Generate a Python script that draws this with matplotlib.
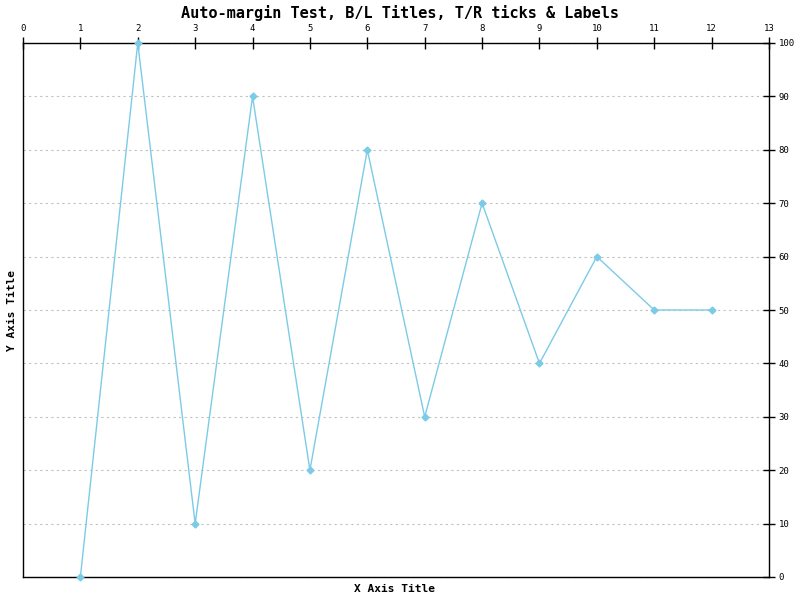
import matplotlib
matplotlib.use("Agg")
import matplotlib.pyplot as plt

# Data
x_vals = [1, 2, 3, 4, 5, 6, 7, 8, 9, 10, 11, 12]
y_vals = [0, 100, 10, 90, 20, 80, 30, 70, 40, 60, 50, 50]
x_ticks = list(range(0, 14))
y_ticks = list(range(0, 101, 10))

fig = plt.figure(figsize=(8, 6), dpi=100)
ax = fig.add_axes([23 / 800, 1 - 577 / 600, 746 / 800, 534 / 600])

ax.plot(x_vals, y_vals, color='#7ccbe6', linewidth=1, marker='D', markersize=3.5,
        markerfacecolor='#7ccbe6', markeredgecolor='#7ccbe6', clip_on=False, zorder=3)

ax.set_xlim(0, 13)
ax.set_ylim(0, 100)
ax.set_xticks(x_ticks)
ax.set_yticks(y_ticks)

ax.xaxis.tick_top()
ax.yaxis.tick_right()
ax.tick_params(axis='both', direction='inout', length=8, width=1, labelsize=6.5, pad=3)
for lbl in ax.get_xticklabels() + ax.get_yticklabels():
    lbl.set_family('DejaVu Sans Mono')

ax.grid(axis='y', linestyle=(0, (2, 3)), color='#c0c0c0', linewidth=0.8)
ax.set_axisbelow(True)
for s in ax.spines.values():
    s.set_linewidth(1)

fig.text(0.5, 1 - 13 / 600, 'Auto-margin Test, B/L Titles, T/R ticks & Labels',
         ha='center', va='center', fontsize=11, fontweight='bold', family='DejaVu Sans Mono')
fig.text(395 / 800, 1 - 589 / 600, 'X Axis Title', ha='center', va='center',
         fontsize=8, fontweight='bold', family='DejaVu Sans Mono')
fig.text(12 / 800, 1 - 310 / 600, 'Y Axis Title', ha='center', va='center', rotation=90,
         fontsize=8, fontweight='bold', family='DejaVu Sans Mono')

plt.savefig('out.png', dpi=100)
